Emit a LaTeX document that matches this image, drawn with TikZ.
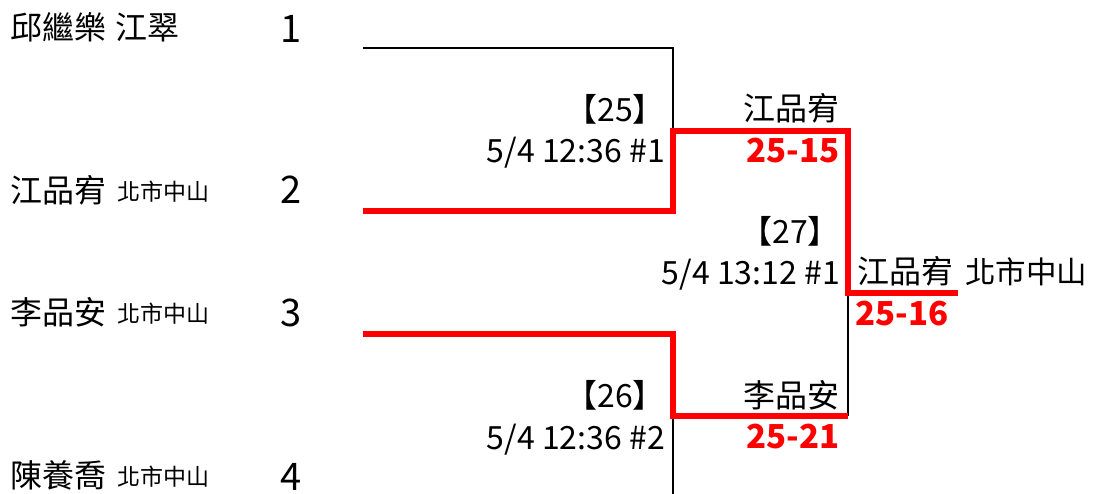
\documentclass[tikz,border=0pt]{standalone}
\usepackage{fontspec}
\setmainfont{Noto Sans CJK TC}
\begin{document}
\begin{tikzpicture}[x=1pt,y=-1pt,
  txt/.style={inner sep=0pt,font=\fontsize{32}{36}\selectfont},
  small/.style={inner sep=0pt,font=\fontsize{23}{26}\selectfont},
  seed/.style={inner sep=0pt,font=\fontsize{38}{44}\selectfont},
  score/.style={inner sep=0pt,text=red,font=\fontsize{33}{38}\selectfont\bfseries},
  blk/.style={line width=2.6pt,black},
  win/.style={line width=5.5pt,red,line join=miter}]
\useasboundingbox (0,0) rectangle (1093,494);
% players
\node[txt,anchor=base west] (p1) at (10,40) {邱繼樂\hspace{0.3em}江翠};
\node[txt,anchor=base west] (p2) at (10,203) {江品宥};
\node[small,anchor=base west] (c2) at (117,201) {北市中山};
\node[txt,anchor=base west] (p3) at (10,325) {李品安};
\node[small,anchor=base west] (c3) at (117,323) {北市中山};
\node[txt,anchor=base west] (p4) at (10,487) {陳養喬};
\node[small,anchor=base west] (c4) at (117,485) {北市中山};
\node[seed,anchor=base] (s1) at (291,43) {1};
\node[seed,anchor=base] (s2) at (291,204) {2};
\node[seed,anchor=base] (s3) at (291,327) {3};
\node[seed,anchor=base] (s4) at (291,490) {4};
% bracket coordinates
\coordinate (a1) at (363,48);
\coordinate (a2) at (673,48);
\coordinate (a3) at (673,131);
\coordinate (b1) at (363,211);
\coordinate (b2) at (673,211);
\coordinate (m1) at (848,131);
\coordinate (m2) at (848,293);
\coordinate (w) at (958,293);
\coordinate (q1) at (363,334);
\coordinate (q2) at (673,334);
\coordinate (q3) at (673,416);
\coordinate (d1) at (848,416);
\coordinate (e1) at (673,494);
% black lines
\draw[blk] (a1) -- (a2) -- (a3);
\draw[blk] (q3) -- (e1);
\draw[blk] (m2) -- (d1);
% red winning paths
\draw[win] (b1) -- (b2) -- (a3) -- (m1) -- (m2) -- (w);
\draw[win] (q1) -- (q2) -- (q3) -- (d1);
% match labels
\node[txt,anchor=base east] (g25) at (665,122) {【25】};
\node[txt,anchor=base east] (t25) at (665,163) {5/4 12:36 \#1};
\node[txt,anchor=base east] (w25) at (840,121) {江品宥};
\node[score,anchor=base east] (r25) at (840,163) {25-15};
\node[txt,anchor=base east] (g27) at (840,244) {【27】};
\node[txt,anchor=base east] (t27) at (840,285) {5/4 13:12 \#1};
\node[txt,anchor=base west] (w27) at (857,284) {江品宥};
\node[txt,anchor=base west,font=\fontsize{30.5}{35}\selectfont] (k27) at (965,284) {北市中山};
\node[score,anchor=base west] (r27) at (855,326) {25-16};
\node[txt,anchor=base east] (g26) at (665,407) {【26】};
\node[txt,anchor=base east] (t26) at (665,449) {5/4 12:36 \#2};
\node[txt,anchor=base east] (w26) at (840,407) {李品安};
\node[score,anchor=base east] (r26) at (840,448) {25-21};
\end{tikzpicture}
\end{document}
